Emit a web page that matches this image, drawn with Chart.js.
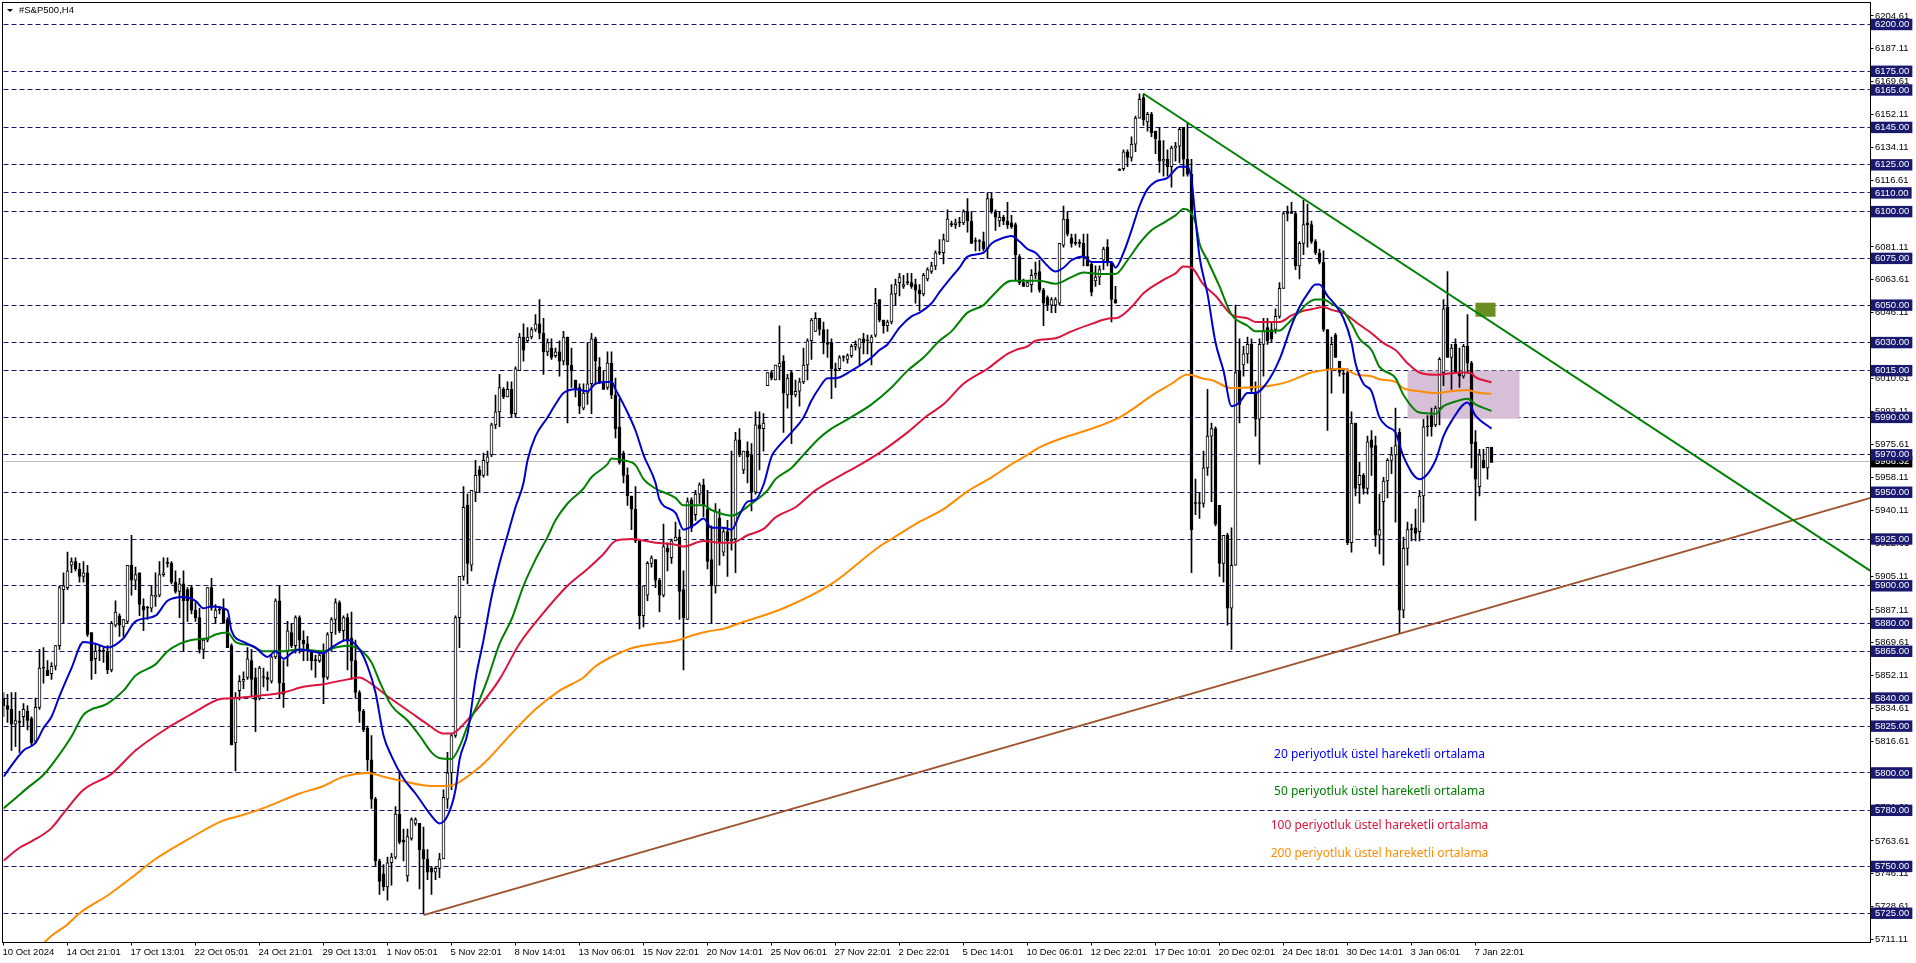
<!DOCTYPE html>
<html><head><meta charset="utf-8"><title>#S&amp;P500,H4</title>
<style>html,body{margin:0;padding:0;background:#fff;overflow:hidden}canvas{display:block}</style>
<script src="https://cdn.jsdelivr.net/npm/chart.js@4"></script></head>
<body><canvas id="c" width="1916" height="963"></canvas>
<script>
const opens=[5840,5836,5834,5826,5827,5830,5833,5829,5817,5835,
5856,5855,5853,5857,5868,5898,5899,5911,5913,5909,
5905,5907,5875,5861,5865,5865,5865,5855,5879,5884,
5878,5881,5911,5903,5907,5889,5888,5888,5894,5895,
5906,5912,5912,5902,5897,5901,5898,5899,5887,5883,
5866,5871,5899,5883,5887,5888,5882,5868,5816,5844,
5849,5851,5860,5851,5840,5851,5851,5849,5862,5892,
5848,5865,5875,5868,5883,5871,5869,5865,5860,5860,
5864,5851,5875,5882,5891,5876,5883,5872,5860,5843,
5833,5824,5807,5786,5753,5746,5739,5752,5755,5778,
5764,5745,5765,5773,5773,5759,5754,5749,5747,5749,
5754,5786,5800,5820,5883,5905,5943,5911,5950,5962,
5959,5966,5970,5986,5993,6005,6001,6005,5992,6015,
6033,6031,6033,6037,6040,6035,6025,6027,6023,6025,
6020,6033,6018,6010,6006,5995,6003,6008,6032,6017,
6009,6006,6019,6002,5985,5971,5959,5948,5941,5924,
5884,5895,5912,5914,5903,5895,5920,5915,5924,5926,
5898,5882,5946,5938,5949,5954,5941,5914,5900,5936,
5918,5929,5924,5925,5978,5962,5972,5970,5950,5986,
5984,6007,6014,6010,6017,6020,6002,6014,6002,6004,
6009,6018,6031,6036,6043,6037,6030,6030,6016,6016,
6022,6021,6023,6028,6027,6032,6031,6030,6034,6053,
6042,6039,6041,6056,6062,6060,6062,6062,6061,6058,
6056,6064,6068,6071,6078,6078,6084,6093,6093,6094,
6094,6100,6095,6084,6084,6084,6080,6107,6100,6095,
6097,6095,6094,6093,6076,6062,6060,6061,6066,6068,
6058,6054,6050,6050,6051,6082,6096,6086,6083,6083,
6083,6076,6072,6063,6065,6074,6081,6073,6053,6122,
6123,6132,6129,6136,6150,6161,6148,6152,6143,6138,
6127,6128,6124,6134,6135,6145,6128,6120,5944,5944,
5944,5963,5980,5984,5943,5912,5927,5888,5911,6015,
6018,6024,6029,6003,5989,6029,6038,6037,6037,6044,
6059,6100,6100,6099,6071,6083,6094,6093,6084,6078,
6073,6037,6016,6034,6020,6013,6014,5923,5987,5954,
5959,5952,5978,5975,5927,5945,5956,5967,5970,5982,
5887,5920,5930,5931,5929,5948,5985,5991,5986,5995,
6014,6049,6022,6029,6014,6012,6028,6019,5977,5953,5967,5963,5974];
const highs=[5843,5842,5843,5843,5833,5837,5836,5830,5840,5866,
5867,5860,5859,5868,5900,5907,5918,5915,5915,5912,
5913,5911,5875,5869,5868,5867,5868,5881,5892,5885,
5882,5911,5927,5910,5907,5893,5889,5900,5907,5913,
5915,5915,5913,5908,5904,5908,5899,5900,5891,5888,
5872,5899,5904,5890,5889,5893,5883,5869,5843,5852,
5854,5867,5866,5856,5857,5856,5854,5863,5893,5900,
5860,5881,5880,5884,5884,5876,5873,5865,5863,5865,
5869,5875,5883,5893,5892,5884,5885,5886,5871,5844,
5834,5825,5820,5787,5754,5751,5755,5757,5782,5801,
5770,5770,5776,5776,5773,5771,5759,5750,5750,5757,
5791,5811,5821,5884,5905,5953,5949,5951,5967,5964,
5971,5972,5987,6002,6013,6006,6009,6009,6017,6035,
6040,6038,6038,6045,6053,6043,6032,6032,6027,6031,
6036,6033,6027,6010,6008,6008,6030,6035,6033,6022,
6015,6025,6025,6011,6000,5972,5963,5948,5953,5924,
5900,5913,5916,5914,5904,5933,5923,5925,5934,5930,
5908,5947,5947,5951,5955,5957,5951,5932,5944,5941,
5931,5935,5972,5982,5984,5972,5977,5976,5993,5993,
5992,6014,6015,6018,6039,6023,6013,6015,6010,6011,
6027,6032,6043,6046,6043,6041,6037,6032,6019,6023,
6023,6024,6029,6031,6032,6035,6034,6034,6059,6053,
6042,6042,6061,6064,6067,6066,6067,6067,6064,6061,
6067,6070,6073,6079,6085,6088,6101,6095,6096,6097,
6101,6107,6100,6086,6085,6089,6110,6110,6101,6100,
6098,6105,6098,6094,6077,6064,6063,6069,6073,6074,
6059,6055,6054,6054,6083,6103,6100,6088,6088,6085,
6088,6088,6073,6071,6071,6081,6085,6073,6060,6123,
6133,6133,6140,6151,6163,6163,6153,6153,6143,6145,
6138,6133,6135,6137,6145,6145,6147,6128,5957,5950,
5972,6005,5987,5985,5943,5927,5928,5931,6050,6032,
6028,6033,6032,6009,6032,6043,6043,6041,6048,6062,
6100,6103,6105,6100,6084,6106,6104,6095,6085,6080,
6079,6037,6033,6035,6020,6016,6016,5993,5987,5966,
5960,5980,5983,5980,5949,5958,5968,5974,5995,5984,
5926,5934,5933,5941,5951,5989,5991,5995,5996,6022,
6053,6068,6029,6032,6027,6029,6045,6020,5983,5973,5973,5974,5974];
const lows=[5830,5827,5812,5814,5811,5825,5823,5815,5816,5834,
5848,5852,5850,5855,5866,5880,5898,5907,5908,5902,
5902,5873,5850,5853,5860,5859,5853,5854,5878,5873,
5873,5880,5895,5898,5884,5876,5882,5886,5889,5894,
5905,5910,5901,5896,5883,5865,5881,5885,5881,5864,
5861,5870,5887,5880,5885,5880,5867,5815,5801,5839,
5845,5850,5841,5822,5839,5846,5844,5848,5861,5840,
5835,5857,5867,5864,5864,5860,5860,5855,5851,5859,
5837,5850,5865,5874,5875,5871,5855,5850,5840,5827,
5822,5801,5781,5750,5735,5737,5732,5740,5754,5762,
5753,5742,5764,5772,5738,5725,5743,5735,5743,5744,
5754,5781,5791,5819,5867,5903,5901,5908,5945,5950,
5958,5959,5969,5984,5985,6000,6001,5990,5990,6015,
6020,6030,6032,6036,6032,6013,6023,6021,6022,6012,
6018,5987,6006,6001,5992,5994,5997,5992,6008,6008,
6005,6005,6000,5979,5965,5955,5943,5930,5923,5877,
5878,5892,5910,5899,5886,5894,5908,5912,5924,5882,
5855,5882,5929,5935,5944,5937,5909,5880,5896,5911,
5916,5905,5919,5907,5969,5960,5955,5940,5949,5962,
5972,6007,6010,6010,6010,5982,5995,5976,6001,5996,
6008,6010,6021,6036,6034,6024,6022,6000,6006,6015,
6020,6019,6022,6026,6018,6024,6024,6018,6033,6041,
6035,6036,6040,6050,6055,6059,6061,6059,6051,6047,
6055,6063,6067,6069,6077,6072,6084,6092,6091,6092,
6093,6089,6083,6079,6079,6079,6075,6099,6090,6092,
6093,6091,6091,6063,6061,6060,6060,6057,6064,6057,
6039,6047,6046,6046,6050,6081,6087,6081,6082,6081,
6071,6071,6055,6060,6061,6069,6071,6041,6051,6122,
6122,6124,6127,6132,6150,6146,6143,6140,6131,6121,
6119,6119,6113,6127,6126,6119,6119,5907,5938,5936,
5942,5959,5945,5932,5905,5902,5879,5866,5911,5987,
6012,6019,6003,5980,5965,6012,6029,6030,6035,6043,
6059,6095,6099,6069,6064,6077,6081,6083,6077,6072,
6036,5983,6003,6022,6012,6003,5922,5918,5948,5944,
5949,5949,5959,5921,5917,5911,5947,5960,5934,5875,
5883,5911,5924,5924,5924,5934,5980,5980,5985,5986,
6007,6022,6005,6014,6006,6011,6014,5963,5935,5948,5963,5957,5966];
const closes=[5836,5834,5826,5828,5827,5834,5828,5816,5835,5856,
5856,5852,5857,5868,5899,5900,5908,5913,5909,5905,
5907,5874,5860,5865,5865,5865,5855,5880,5886,5879,
5882,5911,5903,5906,5890,5887,5888,5895,5895,5906,
5907,5912,5902,5897,5901,5892,5892,5887,5883,5866,
5871,5899,5888,5887,5887,5880,5867,5815,5840,5849,
5850,5861,5850,5839,5856,5851,5850,5862,5892,5848,
5842,5876,5868,5883,5871,5869,5865,5860,5860,5863,
5851,5874,5882,5891,5876,5883,5871,5860,5843,5833,
5823,5807,5786,5753,5742,5739,5752,5755,5778,5763,
5763,5766,5775,5775,5759,5754,5747,5747,5749,5754,
5787,5800,5820,5883,5905,5942,5912,5951,5959,5959,
5967,5969,5986,5993,6006,6001,6005,5992,6016,6033,
6026,6033,6037,6040,6035,6025,6030,6022,6025,6020,
6033,6018,6015,6005,5996,6003,6008,6032,6020,6009,
6005,6019,6002,5984,5966,5959,5948,5941,5924,5884,
5900,5912,5915,5903,5895,5921,5918,5924,5926,5897,
5883,5945,5931,5949,5954,5943,5913,5900,5940,5923,
5929,5924,5925,5978,5970,5972,5969,5950,5986,5984,
5987,6014,6011,6018,6019,6003,6011,6002,6004,6009,
6018,6031,6042,6043,6037,6030,6029,6016,6015,6022,
6022,6023,6028,6029,6032,6030,6031,6033,6051,6042,
6039,6041,6056,6061,6065,6061,6062,6060,6058,6056,
6066,6069,6071,6078,6078,6085,6096,6093,6094,6094,
6100,6095,6083,6084,6084,6080,6107,6100,6097,6097,
6095,6093,6092,6077,6062,6060,6062,6066,6067,6058,
6051,6050,6053,6053,6083,6096,6088,6083,6083,6083,
6076,6071,6057,6065,6069,6080,6073,6053,6051,6122,
6132,6129,6136,6150,6160,6149,6152,6142,6139,6127,
6128,6124,6134,6135,6144,6128,6120,5930,5944,5944,
5963,5980,5984,5933,5912,5927,5888,5911,6014,5997,
6024,6029,6005,5989,6029,6036,6031,6032,6044,6059,
6099,6099,6099,6071,6083,6093,6093,6084,6078,6073,
6037,6016,6029,6022,6014,6013,5923,5987,5952,5959,
5952,5977,5974,5927,5930,5956,5967,5970,5975,5887,
5920,5930,5930,5928,5948,5985,5985,5985,5995,6021,
6048,6022,6027,6014,6012,6028,6019,5976,5957,5970,5963,5974,5966];

const ema20Bars=[0,5,8,10,12,14,17,20,23,26,30,33,38,41,45,48,50,52,56,57,60,63,66,68,70,72,74,80,82,86,89,91,93,95,97,100,103,107,109,111,113,114,116,118,120,122,124,126,128,130,131,133,136,138,140,143,146,148,152,153,155,158,160,163,164,168,170,173,175,177,180,182,184,186,188,190,192,194,197,200,202,204,206,208,212,217,219,221,224,227,229,232,234,237,239,241,245,247,250,252,254,256,258,261,263,265,267,270,272,275,277,278,280,282,284,286,288,291,294,296,297,298,299,301,303,305,307,309,311,313,316,319,322,324,326,328,329,331,333,335,337,338,340,342,344,346,348,350,354,358,360,362,366,368,372];
const ema20=[5798,5812,5816,5824,5830,5841,5856,5870,5869,5867,5872,5881,5884,5892,5894,5892,5888,5889,5887,5876,5870,5867,5862,5865,5861,5864,5866,5864,5867,5871,5866,5857,5843,5820,5809,5797,5789,5777,5773,5777,5791,5807,5821,5850,5871,5894,5912,5927,5942,5955,5967,5980,5990,5997,6003,6005,6004,6008,6009,6005,5997,5983,5970,5955,5946,5939,5930,5933,5936,5931,5931,5930,5938,5945,5946,5954,5969,5975,5982,5990,5999,6006,6011,6011,6015,6022,6026,6029,6038,6044,6046,6051,6057,6065,6070,6076,6078,6083,6086,6087,6084,6080,6078,6071,6068,6070,6074,6076,6073,6073,6073,6070,6078,6090,6103,6112,6116,6118,6124,6124,6117,6096,6076,6056,6030,6015,5996,5998,6003,6003,6009,6021,6039,6049,6056,6061,6061,6055,6050,6043,6030,6019,6008,6004,5990,5985,5982,5969,5957,5967,5980,5988,5998,5991,5984];
const ema50Bars=[0,3,6,10,13,17,20,26,30,33,38,41,44,47,51,53,56,58,62,65,70,74,80,83,86,89,92,94,97,101,104,107,109,112,114,116,119,121,124,127,130,133,136,138,141,145,147,151,152,155,158,160,163,168,170,175,177,182,187,191,193,197,200,204,207,211,217,222,226,230,234,237,241,245,247,252,256,259,263,267,270,274,278,281,284,287,290,293,295,296,298,299,301,304,307,311,313,319,321,324,326,328,330,332,335,337,339,342,344,348,350,354,358,360,363,366,368,372];
const ema50=[5781,5786.5,5792,5799,5807,5819.5,5831,5837,5844,5852,5858,5865,5869,5871,5872,5874,5875,5870,5868,5865,5865,5866,5865,5867,5868,5866,5859,5849,5836,5828,5820,5811,5808,5807.5,5814,5825,5839,5850,5869,5882,5900,5914,5926,5935,5944,5952,5958,5965,5968,5967,5964.5,5957,5952,5947,5943,5943,5940.5,5937.5,5944,5951,5957,5963,5970,5979,5984,5989,5997,6006,6015,6022,6031,6036,6046,6050,6054.5,6063,6063,6063,6061.4,6065,6067.4,6066.7,6066.7,6074,6083,6090,6094,6098,6101.4,6101,6094,6083,6074,6060,6045,6039,6036,6036.4,6040,6046.6,6051,6053,6053,6050.7,6046.6,6040,6032,6026,6017,6011,6002,5992.6,5992,5996,5998.5,6000,5997,5993.5];
const ema100Bars=[0,4,7,12,15,20,27,33,41,45,49,54,58,64,70,75,80,86,89,91,96,102,106,110,112,116,119,124,129,134,141,146,150,153,157,163,168,170,175,179,182,186,190,193,198,203,206,211,216,221,226,231,235,240,246,251,253,256,258,263,267,272,277,278,282,285,290,293,295,297,300,303,307,311,313,319,322,325,327,330,332,335,339,342,345,348,351,354,358,362,365,367,368,372];
const ema100=[5753,5760,5763.4,5770.5,5778.5,5791,5799.5,5812,5824,5829,5834,5839.4,5840,5841.3,5843,5846,5847.4,5850,5851,5849,5841,5832,5826,5821,5821,5828.3,5835.5,5850,5869,5883,5900,5909,5917,5924,5925,5923,5922,5921,5924,5923,5923,5927,5930.4,5936.6,5942,5951,5955,5961,5967,5974,5982,5991,5997,6008,6016,6024,6026,6028,6031,6032.3,6036,6040,6043,6043,6049,6056.4,6063.5,6067,6070.6,6070,6061,6055,6045,6043,6041,6041,6044.5,6047,6047.8,6049,6047.5,6045.7,6039.5,6035,6029.7,6026,6019,6014,6012.8,6013.6,6014,6013.6,6011.5,6008.8];
const ema200Bars=[0,10,12,16,19,26,32,38,46,55,60,66,74,80,85,91,95,99,107,111,113,119,121,127,133,139,145,148,152,157,163,168,173,176,180,184,195,207,219,222,228,235,241,247,252,256,259,279,288,292,296,300,302,307,311,317,321,327,331,335,338,342,344,348,350,354,358,362,366,368,372];
const ema200=[5688,5709,5713,5719,5725,5734.5,5744,5754,5764.3,5774.6,5777.6,5782,5789,5793,5798,5800,5798,5796,5793,5793,5794,5803,5807,5821,5834,5844,5851,5857,5862,5866.6,5869,5870.6,5874,5875.6,5877,5880,5888,5901,5921,5925,5933,5941,5950.5,5958,5965,5970,5974,5990,6003,6008,6013,6010.7,6010,6005.7,6006,6007,6009,6014,6015.5,6016,6013,6012,6010.4,6009,6005.6,6004,6003,6004,6004.7,6003.5,6002.6];

const levels=[6200,6175,6165,6145,6125,6110,6100,6075,6050,6030,6015,5990,5970,5950,5925,5900,5880,5865,5840,5825,5800,5780,5750,5725];
const scaleTicks=[6204.61,6187.11,6169.61,6152.11,6134.11,6116.61,6099.11,6081.11,6063.61,6046.11,6028.61,6010.61,5993.11,5975.61,5958.11,5940.11,5922.61,5905.11,5887.11,5869.61,5852.11,5834.61,5816.61,5799.11,5781.61,5763.61,5746.11,5728.61,5711.11];
const currentPrice=5966.32;
const timeLabels=["10 Oct 2024","14 Oct 21:01","17 Oct 13:01","22 Oct 05:01","24 Oct 21:01","29 Oct 13:01","1 Nov 05:01","5 Nov 22:01","8 Nov 14:01","13 Nov 06:01","15 Nov 22:01","20 Nov 14:01","25 Nov 06:01","27 Nov 22:01","2 Dec 22:01","5 Dec 14:01","10 Dec 06:01","12 Dec 22:01","17 Dec 10:01","20 Dec 02:01","24 Dec 18:01","30 Dec 14:01","3 Jan 06:01","7 Jan 22:01"];
const barsPerLabel=16;
const greenTrendBars=[285,466.75], greenTrend=[6163,5908];
const brownTrendBars=[105,466.75], brownTrend=[5724,5947];
const noteTexts=["20 periyotluk üstel hareketli ortalama","50 periyotluk üstel hareketli ortalama","100 periyotluk üstel hareketli ortalama","200 periyotluk üstel hareketli ortalama"];
const noteColors=["#0000ff","#008000","#dc143c","#ff8c00"];
const notePrices=[5809.6,5789.8,5772,5757];
const noteBar=344;
const zones=[{from:351,to:379,top:6015,bottom:5989.3,color:"#d8bfd8"},{from:368,to:373,top:6051.3,bottom:6043.8,color:"#6b8e23"}];
const title="#S&P500,H4";
const FONT="'Liberation Sans'";

const pts=(xs,ys)=>xs.map((x,i)=>({x,y:ys[i]}));
const idx=opens.map((_,i)=>i);
const isUp=i=>closes[i]>opens[i];
const lineDs=(label,xs,ys,color)=>({type:'line',label,data:pts(xs,ys),borderColor:color,backgroundColor:color,borderWidth:2,pointRadius:0,cubicInterpolationMode:'monotone',order:1});
const trendDs=(label,xs,ys,color)=>({type:'line',label,data:pts(xs,ys),borderColor:color,borderWidth:2,pointRadius:0,tension:0,order:0});

const levelSet=new Set(levels);
const decor={id:'decor',
 beforeDatasetsDraw(ch){const {ctx,scales:{x,y}}=ch;ctx.save();
  zones.forEach(z=>{ctx.fillStyle=z.color;const l=x.getPixelForValue(z.from),r=x.getPixelForValue(z.to),t=y.getPixelForValue(z.top),b=y.getPixelForValue(z.bottom);ctx.fillRect(l,t,r-l,b-t);});
  ctx.restore();},
 afterDraw(ch){const {ctx,scales:{x,y},chartArea:a}=ch;ctx.save();
  ctx.strokeStyle='#000';ctx.lineWidth=1;ctx.strokeRect(a.left-1,a.top,a.right-a.left+1,a.bottom-a.top);
  ctx.textBaseline='middle';
  ctx.fillStyle='#000';ctx.beginPath();ctx.moveTo(7,9);ctx.lineTo(13,9);ctx.lineTo(10,12);ctx.closePath();ctx.fill();
  ctx.font="9.5px "+FONT;ctx.textAlign='left';ctx.fillStyle='#000';ctx.fillText(title,19,10.5);
  ctx.font="12px 'Noto Sans'";ctx.textAlign='center';
  noteTexts.forEach((t,i)=>{ctx.fillStyle=noteColors[i];ctx.fillText(t,x.getPixelForValue(noteBar),y.getPixelForValue(notePrices[i]));});
  ctx.restore();}
};

new Chart(document.getElementById('c'),{
 type:'bar',
 plugins:[decor],
 data:{datasets:[
  lineDs('EMA 20',ema20Bars,ema20,'#0000cd'),
  lineDs('EMA 50',ema50Bars,ema50,'#008000'),
  lineDs('EMA 100',ema100Bars,ema100,'#dc143c'),
  lineDs('EMA 200',ema200Bars,ema200,'#ff8c00'),
  trendDs('Trend down',greenTrendBars,greenTrend,'#008000'),
  trendDs('Trend up',brownTrendBars,brownTrend,'#a0522d'),
  {label:'Body',data:idx.map(i=>({x:i,y:[opens[i],closes[i]]})),grouped:false,barThickness:3,minBarLength:1,borderWidth:1,borderSkipped:false,borderColor:'#000',backgroundColor:idx.map(i=>isUp(i)?'#fff':'#000'),order:2},
  {label:'Wick',data:idx.map(i=>({x:i,y:[lows[i],highs[i]]})),grouped:false,barThickness:1,borderWidth:0,backgroundColor:'#000',order:3}
 ]},
 options:{
  responsive:false,animation:false,devicePixelRatio:1,
  layout:{padding:{left:3.5,top:2.5,right:0,bottom:0}},
  plugins:{legend:{display:false},tooltip:{enabled:false},title:{display:false}},
  events:[],
  scales:{
   x:{type:'linear',min:0,max:466.75,offset:false,
    afterFit(s){s.height=20.5;s.paddingLeft=0;s.paddingRight=0;},
    afterBuildTicks(s){s.ticks=timeLabels.map((_,i)=>({value:i*barsPerLabel}));},
    grid:{offset:false,drawOnChartArea:false,drawTicks:true,tickLength:3,color:'#000',tickColor:'#000'},
    border:{display:true,color:'#000',width:1},
    ticks:{autoSkip:false,maxRotation:0,minRotation:0,align:'start',labelOffset:-1,padding:1,color:'#000',font:{family:FONT,size:9.5},
     callback:v=>timeLabels[Math.round(v/barsPerLabel)]??''}},
   y:{type:'linear',position:'right',min:5709.36,max:6211.76,
    afterFit(s){s.width=45.5;s.paddingTop=0;s.paddingBottom=0;},
    afterBuildTicks(s){s.ticks=[...scaleTicks,currentPrice,...levels].map(value=>({value}));},
    grid:{drawTicks:true,tickLength:3,lineWidth:1,
     color:c=>levelSet.has(c.tick.value)?'#191970':(c.tick.value===currentPrice?'#c0c0c0':'rgba(0,0,0,0)'),
     tickColor:c=>scaleTicks.includes(c.tick.value)?'#000':'rgba(0,0,0,0)'},
    border:{display:true,color:'#000',width:1,dash:c=>c.tick&&levelSet.has(c.tick.value)?[5,3]:[]},
    ticks:{autoSkip:false,crossAlign:'near',padding:1.5,font:{family:FONT,size:9.5},
     color:c=>scaleTicks.includes(c.tick.value)?'#000':'#fff',
     showLabelBackdrop:c=>!scaleTicks.includes(c.tick.value),
     backdropColor:c=>c.tick.value===currentPrice?'#000':'#191970',
     backdropPadding:{left:4,right:3,top:0,bottom:0},
     callback:v=>v.toFixed(2)}}
  }
 }
});
</script></body></html>
